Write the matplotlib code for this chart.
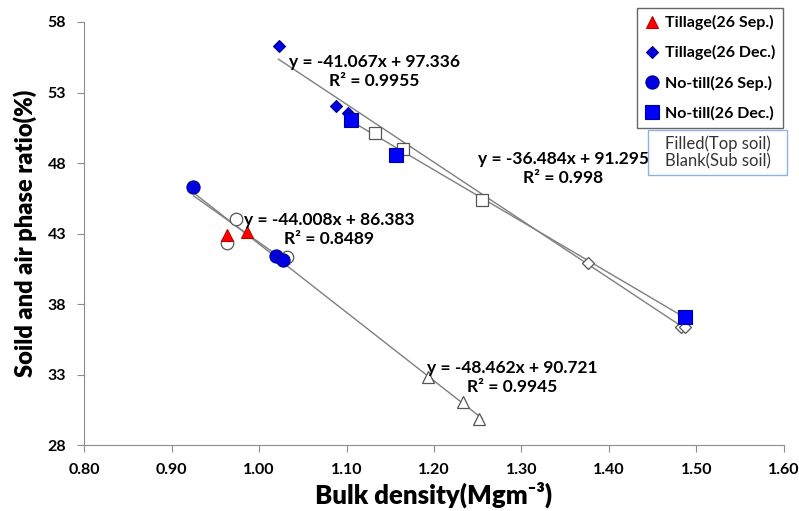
import matplotlib
matplotlib.use("Agg")
import matplotlib.pyplot as plt
import numpy as np
from matplotlib.ticker import FormatStrFormatter, MultipleLocator
from matplotlib.patches import Rectangle

plt.rcParams['font.family'] = ['Lato', 'DejaVu Sans']

# ---- data ----
# Tillage (26 Sep.) : triangles
till_sep_top_x = [0.963, 0.986]
till_sep_top_y = [42.90, 43.14]
till_sep_sub_x = [1.193, 1.233, 1.251]
till_sep_sub_y = [32.82, 31.09, 29.84]

# Tillage (26 Dec.) : diamonds
till_dec_top_x = [1.023, 1.088, 1.102]
till_dec_top_y = [56.30, 52.05, 51.53]
till_dec_sub_x = [1.376, 1.482, 1.4865]
till_dec_sub_y = [40.90, 36.40, 36.36]

# No-till (26 Sep.) : circles
nt_sep_top_x = [0.924, 1.019, 1.027]
nt_sep_top_y = [46.30, 41.45, 41.12]
nt_sep_sub_x = [0.973, 0.963, 1.032]
nt_sep_sub_y = [44.02, 42.32, 41.37]

# No-till (26 Dec.) : squares
nt_dec_top_x = [1.105, 1.157, 1.4865]
nt_dec_top_y = [51.05, 48.57, 37.11]
nt_dec_sub_x = [1.132, 1.165, 1.255]
nt_dec_sub_y = [50.15, 48.98, 45.39]

# trend lines: slope, intercept, x-range, R^2
trend_slopes = [-41.067, -36.484, -44.008, -48.462]
trend_inters = [97.336, 91.295, 86.383, 90.721]
trend_xmin = [1.022, 1.100, 0.925, 0.925]
trend_xmax = [1.487, 1.487, 1.035, 1.255]
trend_r2 = ["0.9955", "0.998", "0.8489", "0.9945"]
label_x = [1.132, 1.348, 1.080, 1.289]
label_y = [54.50, 47.60, 43.30, 32.80]

y_ticks = [28, 33, 38, 43, 48, 53, 58]

legend_labels = ["Tillage(26 Sep.)", "Tillage(26 Dec.)", "No-till(26 Sep.)", "No-till(26 Dec.)"]

fig = plt.figure(figsize=(7.99, 5.11), dpi=100)
ax = fig.add_axes([0.1055, 0.1286, 0.8755, 0.8284])

line_col = '#7f7f7f'
for s, b, x0, x1 in zip(trend_slopes, trend_inters, trend_xmin, trend_xmax):
    xs = np.array([x0, x1])
    ax.plot(xs, s * xs + b, color=line_col, lw=1.0, zorder=1)

open_kw = dict(linestyle='none', mfc='white', mec='#555555', mew=0.9, zorder=3)
ax.plot(till_sep_sub_x, till_sep_sub_y, marker='^', ms=9, **open_kw)
ax.plot(till_dec_sub_x, till_dec_sub_y, marker='D', ms=6, **open_kw)
ax.plot(nt_sep_sub_x, nt_sep_sub_y, marker='o', ms=9, **open_kw)
ax.plot(nt_dec_sub_x, nt_dec_sub_y, marker='s', ms=9, **open_kw)

h1, = ax.plot(till_sep_top_x, till_sep_top_y, linestyle='none', marker='^', ms=9,
              mfc='#ff0000', mec='#c00000', mew=0.8, zorder=4)
h2, = ax.plot(till_dec_top_x, till_dec_top_y, linestyle='none', marker='D', ms=6.5,
              mfc='#0000e0', mec='#000090', mew=0.8, zorder=4)
h3, = ax.plot(nt_sep_top_x, nt_sep_top_y, linestyle='none', marker='o', ms=9.5,
              mfc='#0000e0', mec='#000090', mew=0.8, zorder=4)
h4, = ax.plot(nt_dec_top_x, nt_dec_top_y, linestyle='none', marker='s', ms=9.5,
              mfc='#0000ff', mec='#000090', mew=0.8, zorder=4)

for s, b, r2, tx, ty in zip(trend_slopes, trend_inters, trend_r2, label_x, label_y):
    ax.text(tx, ty, f"y = {s:.3f}x + {b:.3f}\nR\u00b2 = {r2}", ha='center', va='center',
            fontsize=12.5, fontweight='bold', linespacing=1.2, zorder=5)

ax.set_xlim(0.80, 1.60)
ax.set_ylim(28, 58)
ax.xaxis.set_major_locator(MultipleLocator(0.10))
ax.set_yticks(y_ticks)
ax.xaxis.set_major_formatter(FormatStrFormatter('%.2f'))
for sp in ['top', 'right']:
    ax.spines[sp].set_visible(False)
for sp in ['left', 'bottom']:
    ax.spines[sp].set_color('#8c8c8c')
ax.tick_params(axis='both', direction='out', length=5, color='#8c8c8c', labelsize=11.5, pad=8)
for lab in ax.get_xticklabels() + ax.get_yticklabels():
    lab.set_fontweight('bold')

ax.set_xlabel("Bulk density(Mgm\u207b\u00b3)", fontsize=18.5, fontweight='heavy', labelpad=3)
ax.set_ylabel("Soild and air phase ratio(%)", fontsize=17, fontweight='heavy', labelpad=8)

leg = fig.legend([h1, h2, h3, h4], legend_labels, loc='upper left',
                 bbox_to_anchor=(637 / 799, 1 - 8 / 511), frameon=True, fancybox=False,
                 prop={'weight': 'bold', 'size': 11.5}, handletextpad=0.3,
                 handlelength=1.0, borderpad=0.45, labelspacing=0.95, borderaxespad=0)
leg.get_frame().set_edgecolor('#404040')
leg.get_frame().set_linewidth(1.0)

bx0, bx1, by0, by1 = 648 / 799, 787 / 799, 1 - 175 / 511, 1 - 130 / 511
fig.patches.append(Rectangle((bx0, by0), bx1 - bx0, by1 - by0, transform=fig.transFigure,
                             fc='white', ec='#8db3e2', lw=1.0, zorder=1))
fig.text((bx0 + bx1) / 2, (by0 + by1) / 2, "Filled(Top soil)\nBlank(Sub soil)", ha='center',
         va='center', fontsize=12, color='#333333', linespacing=1.05)

fig.savefig("out.png", dpi=100)
